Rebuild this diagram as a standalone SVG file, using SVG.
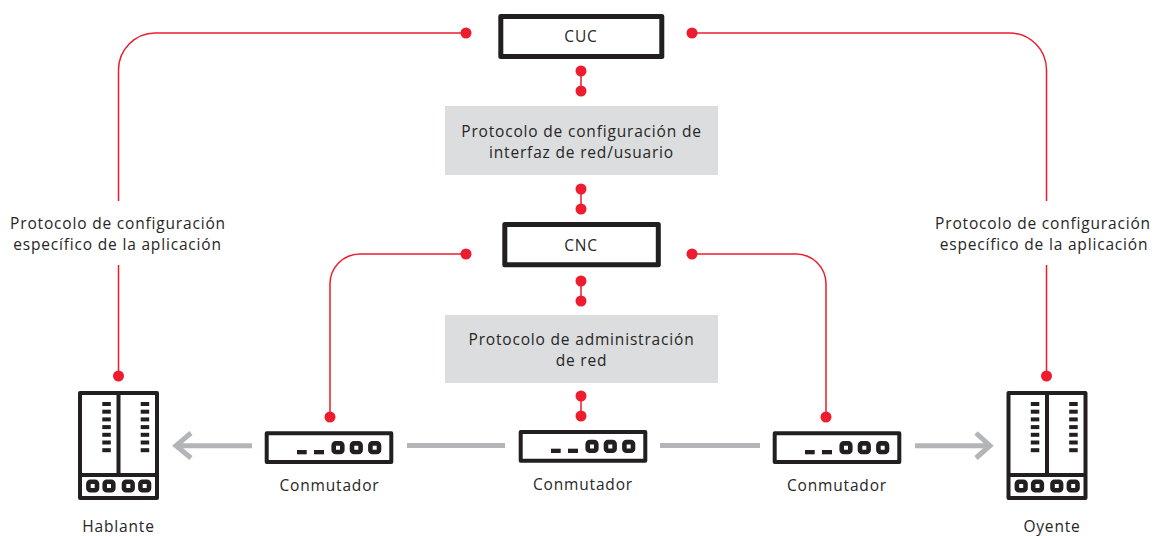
<svg xmlns="http://www.w3.org/2000/svg" width="1156" height="536" viewBox="0 0 1156 536">
<style>
text{font-family:"Open Sans","Noto Sans",sans-serif;font-size:15.5px;fill:#262626;text-anchor:middle;letter-spacing:.82px}
.red{fill:none;stroke:#ed1c2e;stroke-width:1.5}
.dot{fill:#ed1c2e}
.grey{fill:none;stroke:#b3b5b8;stroke-width:5}
.box{fill:#fff;stroke:#231f20;stroke-linejoin:round}
.k{fill:#231f20}
.port{fill:#fff;stroke:#231f20;stroke-width:4.6}
.panel{fill:#dcddde}
</style>
<defs>
<g id="leds"><rect x="0" y="0" width="8.5" height="4"/><rect x="0" y="7.7" width="8.5" height="4"/><rect x="0" y="15.4" width="8.5" height="4"/><rect x="0" y="23.1" width="8.5" height="4"/><rect x="0" y="30.8" width="8.5" height="4"/><rect x="0" y="38.5" width="8.5" height="4"/><rect x="0" y="46.2" width="8.5" height="4"/></g>
<g id="station">
<rect class="box" x="80" y="393" width="77" height="105" stroke-width="4"/>
<path d="M118.5 393V475M80 475H157" stroke="#231f20" stroke-width="4" fill="none"/>
<use href="#leds" class="k" x="102.3" y="402"/><use href="#leds" class="k" x="140.7" y="402"/>
<rect class="port" x="88.4" y="481.7" width="8.6" height="8.6" rx="2"/><rect class="port" x="104.7" y="481.7" width="8.6" height="8.6" rx="2"/><rect class="port" x="124" y="481.7" width="8.6" height="8.6" rx="2"/><rect class="port" x="140.4" y="481.7" width="8.6" height="8.6" rx="2"/>
</g>
<g id="switch">
<rect class="box" x="266.7" y="433.3" width="124.6" height="28.7" stroke-width="4"/>
<rect class="k" x="297" y="450" width="9.7" height="4.3"/><rect class="k" x="314" y="450" width="10" height="4.3"/>
<rect class="port" x="333.7" y="443.4" width="8.6" height="8.6" rx="2"/><rect class="port" x="352" y="443.4" width="8.6" height="8.6" rx="2"/><rect class="port" x="370.4" y="443.4" width="8.6" height="8.6" rx="2"/>
</g>
</defs>
<g id="connectors">
<path class="red" d="M466 33H155A37 37 0 0 0 118.500 70V201M118.500 265V376"/>
<path class="red" d="M692 33H1009.500A37 37 0 0 1 1046.500 70V201M1046.500 265V376"/>
<path class="red" d="M466 254H360A30 30 0 0 0 330 284V417"/>
<path class="red" d="M692 254H796A30 30 0 0 1 826 284V417"/>
<path class="red" d="M581 71V91M581 189V209M581 281V301M581 396V416"/>
<g class="dot">
<circle cx="466" cy="33" r="5.5"/><circle cx="692" cy="33" r="5.5"/><circle cx="581" cy="71" r="5.5"/><circle cx="581" cy="91" r="5.5"/><circle cx="581" cy="189" r="5.5"/><circle cx="581" cy="209" r="5.5"/><circle cx="466" cy="254" r="5.5"/><circle cx="692" cy="254" r="5.5"/><circle cx="581" cy="281" r="5.5"/><circle cx="581" cy="301" r="5.5"/><circle cx="581" cy="396" r="5.5"/><circle cx="581" cy="416" r="5.5"/><circle cx="330" cy="417" r="5.5"/><circle cx="826" cy="417" r="5.5"/><circle cx="118.500" cy="376" r="5.5"/><circle cx="1046.500" cy="376" r="5.5"/>
</g>
<path class="grey" d="M252 445.700H177M191 433 176 445.700 191 458"/>
<path class="grey" d="M407 445.500H505M660 445.500H760"/>
<path class="grey" d="M915 445.700H989M976 433 990 445.700 976 458"/>
</g>
<g id="cuc"><rect class="box" x="500.800" y="16.500" width="161" height="40" stroke-width="5"/><text x="581" y="41.700">CUC</text></g>
<g id="cnc"><rect class="box" x="504.800" y="224.500" width="153.500" height="40.300" stroke-width="5"/><text x="581" y="250.700">CNC</text></g>
<g id="panel-interfaz"><rect class="panel" x="445" y="106" width="273" height="69"/><text x="581.500" y="136.700">Protocolo de configuración de</text><text x="581.500" y="157.700">interfaz de red/usuario</text></g>
<g id="panel-red"><rect class="panel" x="445" y="315" width="273" height="68"/><text x="581.500" y="344.700">Protocolo de administración</text><text x="581.500" y="365.700">de red</text></g>
<g id="label-izq"><text x="118" y="228.700">Protocolo de configuración</text><text x="117.500" y="249.700">específico de la aplicación</text></g>
<g id="label-der"><text x="1043" y="228.700">Protocolo de configuración</text><text x="1044" y="249.700">específico de la aplicación</text></g>
<g id="hablante"><use href="#station"/><text x="118.500" y="531.700">Hablante</text></g>
<g id="oyente"><use href="#station" x="928.500"/><text x="1052" y="531.700">Oyente</text></g>
<g id="conmutador-1"><use href="#switch"/><text x="329.500" y="490.700">Conmutador</text></g>
<g id="conmutador-2"><use href="#switch" x="254" y="-1.300"/><text x="583" y="489.700">Conmutador</text></g>
<g id="conmutador-3"><use href="#switch" x="508"/><text x="837" y="490.700">Conmutador</text></g>
</svg>
